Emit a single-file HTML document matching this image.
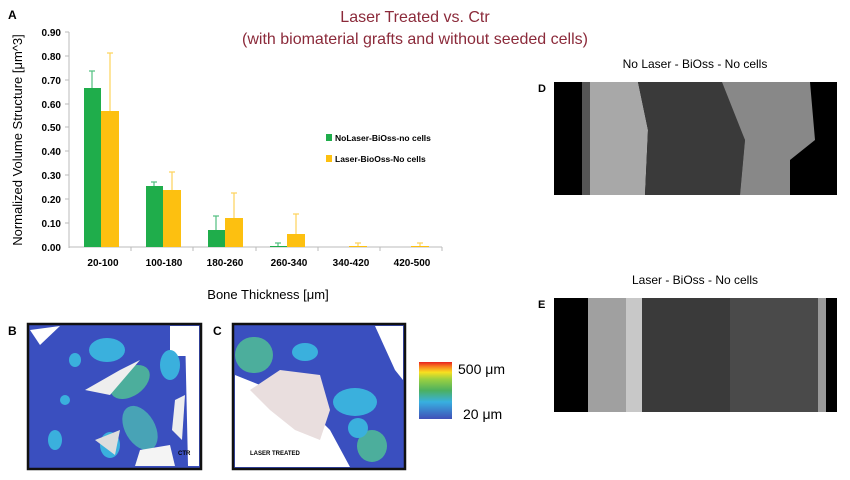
<!DOCTYPE html>
<html><head><meta charset="utf-8"><style>
body{margin:0;background:#fff;width:850px;height:475px;overflow:hidden;font-family:"Liberation Sans",Arial,sans-serif}
</style></head><body>
<svg width="850" height="475" xmlns="http://www.w3.org/2000/svg" font-family="Liberation Sans, Arial, sans-serif">
<rect width="850" height="475" fill="#fff"/>
<text x="8" y="19" font-size="12" font-weight="bold">A</text>
<text x="415" y="22" font-size="16" fill="#8b2a3a" text-anchor="middle">Laser Treated vs. Ctr</text>
<text x="415" y="44" font-size="16" fill="#8b2a3a" text-anchor="middle">(with biomaterial grafts and without seeded cells)</text>
<g font-size="10" font-weight="bold" text-anchor="end">
<text x="61" y="251">0.00</text><text x="61" y="227">0.10</text><text x="61" y="203">0.20</text><text x="61" y="179">0.30</text><text x="61" y="155">0.40</text><text x="61" y="131">0.50</text><text x="61" y="108">0.60</text><text x="61" y="84">0.70</text><text x="61" y="60">0.80</text><text x="61" y="36">0.90</text>
</g>
<g stroke="#bbb" stroke-width="1">
<line x1="69" y1="32" x2="69" y2="248"/><line x1="69" y1="247" x2="442" y2="247"/>
<line x1="65" y1="32" x2="69" y2="32"/><line x1="65" y1="56" x2="69" y2="56"/><line x1="65" y1="80" x2="69" y2="80"/><line x1="65" y1="104" x2="69" y2="104"/><line x1="65" y1="127" x2="69" y2="127"/><line x1="65" y1="151" x2="69" y2="151"/><line x1="65" y1="175" x2="69" y2="175"/><line x1="65" y1="199" x2="69" y2="199"/><line x1="65" y1="223" x2="69" y2="223"/>
<line x1="131" y1="247" x2="131" y2="251"/><line x1="193" y1="247" x2="193" y2="251"/><line x1="256" y1="247" x2="256" y2="251"/><line x1="318" y1="247" x2="318" y2="251"/><line x1="380" y1="247" x2="380" y2="251"/><line x1="442" y1="247" x2="442" y2="251"/>
</g>
<text transform="translate(22,140) rotate(-90)" font-size="13" text-anchor="middle">Normalized Volume Structure [μm^3]</text>
<!-- bars -->
<g fill="#1fad4b">
<rect x="84" y="88" width="17" height="159"/><rect x="146" y="186" width="17" height="61"/><rect x="208" y="230" width="17" height="17"/><rect x="270" y="246" width="17" height="1"/>
</g>
<g fill="#fdc010">
<rect x="101" y="111" width="18" height="136"/><rect x="163" y="190" width="18" height="57"/><rect x="225" y="218" width="18" height="29"/><rect x="287" y="234" width="18" height="13"/><rect x="349" y="246" width="18" height="1"/><rect x="411" y="246" width="18" height="1"/>
</g>
<g stroke="#4fbf7f" stroke-width="1.2">
<line x1="92" y1="88" x2="92" y2="71"/><line x1="89" y1="71" x2="95" y2="71"/>
<line x1="154" y1="186" x2="154" y2="182"/><line x1="151" y1="182" x2="157" y2="182"/>
<line x1="216" y1="230" x2="216" y2="216"/><line x1="213" y1="216" x2="219" y2="216"/>
<line x1="278" y1="246" x2="278" y2="243"/><line x1="275" y1="243" x2="281" y2="243"/>
</g>
<g stroke="#fdd35a" stroke-width="1.2">
<line x1="110" y1="111" x2="110" y2="53"/><line x1="107" y1="53" x2="113" y2="53"/>
<line x1="172" y1="190" x2="172" y2="172"/><line x1="169" y1="172" x2="175" y2="172"/>
<line x1="234" y1="218" x2="234" y2="193"/><line x1="231" y1="193" x2="237" y2="193"/>
<line x1="296" y1="234" x2="296" y2="214"/><line x1="293" y1="214" x2="299" y2="214"/>
<line x1="358" y1="246" x2="358" y2="243"/><line x1="355" y1="243" x2="361" y2="243"/>
<line x1="420" y1="246" x2="420" y2="243"/><line x1="417" y1="243" x2="423" y2="243"/>
</g>
<g font-size="10" font-weight="bold" text-anchor="middle">
<text x="103" y="266">20-100</text><text x="164" y="266">100-180</text><text x="225" y="266">180-260</text><text x="289" y="266">260-340</text><text x="351" y="266">340-420</text><text x="412" y="266">420-500</text>
</g>
<text x="268" y="299" font-size="13" text-anchor="middle">Bone Thickness [μm]</text>
<rect x="326" y="134" width="6" height="7" fill="#1fad4b"/>
<text x="335" y="141" font-size="8.5" font-weight="bold">NoLaser-BiOss-no cells</text>
<rect x="326" y="155" width="6" height="7" fill="#fdc010"/>
<text x="335" y="162" font-size="8.5" font-weight="bold">Laser-BioOss-No cells</text>

<!-- B -->
<text x="8" y="335" font-size="12" font-weight="bold">B</text>
<rect x="28" y="324" width="173" height="145" fill="#3a4fbf" stroke="#111" stroke-width="2.5"/>
<g>
<rect x="170" y="326" width="29" height="30" fill="#fff"/>
<ellipse cx="130" cy="382" rx="22" ry="14" fill="#4cae9c" transform="rotate(-35 130 382)"/>
<ellipse cx="140" cy="428" rx="15" ry="24" fill="#48a3b6" transform="rotate(-30 140 428)"/>
<ellipse cx="107" cy="350" rx="18" ry="12" fill="#3ab0dd"/>
<ellipse cx="75" cy="360" rx="6" ry="7" fill="#3ab0dd"/>
<ellipse cx="65" cy="400" rx="5" ry="5" fill="#3ab0dd"/>
<ellipse cx="110" cy="445" rx="10" ry="13" fill="#3ab0dd"/>
<ellipse cx="170" cy="365" rx="10" ry="15" fill="#3ab0dd"/>
<ellipse cx="55" cy="440" rx="7" ry="10" fill="#3ab0dd"/>
<path d="M85 390 L120 370 L140 360 L110 395 Z" fill="#eee"/>
<path d="M95 440 L120 430 L115 455 Z" fill="#ddd"/>
<path d="M140 450 L170 445 L175 466 L135 466 Z" fill="#f4f4f4"/>
<path d="M175 400 L185 395 L182 440 L172 430 Z" fill="#eee"/>
<path d="M30 330 L60 326 L40 345 Z" fill="#fff"/>
<path d="M185 330 L199 330 L199 466 L188 466 Z" fill="#fff"/>
</g>
<text x="178" y="455" font-size="6" font-weight="bold">CTR</text>
<!-- C -->
<text x="213" y="335" font-size="12" font-weight="bold">C</text>
<rect x="233" y="324" width="172" height="145" fill="#3a4fbf" stroke="#111" stroke-width="2.5"/>
<path d="M235 375 L260 385 L300 400 L330 430 L350 467 L235 467 Z" fill="#fff"/>
<path d="M375 326 L403 326 L403 380 L395 370 Z" fill="#fff"/>
<path d="M250 390 L280 370 L320 375 L330 410 L320 440 L295 430 L270 410 Z" fill="#e9dede"/>
<rect x="235" y="337" width="38" height="36" rx="18" fill="#4cae9c"/>
<ellipse cx="305" cy="352" rx="13" ry="9" fill="#3ab0dd"/>
<ellipse cx="355" cy="402" rx="22" ry="14" fill="#3ab0dd"/>
<ellipse cx="372" cy="446" rx="15" ry="16" fill="#4cae9c"/>
<ellipse cx="358" cy="428" rx="10" ry="10" fill="#3ab0dd"/>
<text x="250" y="455" font-size="6" font-weight="bold">LASER TREATED</text>
<defs><linearGradient id="cb" x1="0" y1="1" x2="0" y2="0">
<stop offset="0" stop-color="#4050b8"/><stop offset="0.3" stop-color="#38b0e0"/><stop offset="0.5" stop-color="#4cb060"/><stop offset="0.7" stop-color="#9cd040"/><stop offset="0.82" stop-color="#f8e020"/><stop offset="0.92" stop-color="#f88020"/><stop offset="1" stop-color="#e82020"/>
</linearGradient></defs>
<rect x="419" y="362" width="33" height="57" fill="url(#cb)"/>
<text x="458" y="374" font-size="14">500 μm</text>
<text x="463" y="419" font-size="14">20 μm</text>

<!-- D -->
<text x="695" y="68" font-size="12" text-anchor="middle">No Laser - BiOss - No cells</text>
<text x="538" y="92" font-size="11" font-weight="bold">D</text>
<rect x="554" y="82" width="283" height="113" fill="#000"/>
<rect x="582" y="82" width="8" height="113" fill="#555"/>
<path d="M590 82 L638 82 L648 130 L645 195 L590 195 Z" fill="#a8a8a8"/>
<path d="M638 82 L725 82 L745 140 L740 195 L645 195 L648 130 Z" fill="#3a3a3a"/>
<path d="M722 82 L810 82 L815 140 L790 160 L790 195 L740 195 L745 140 Z" fill="#888"/>
<!-- E -->
<text x="695" y="284" font-size="12" text-anchor="middle">Laser - BiOss - No cells</text>
<text x="538" y="308" font-size="11" font-weight="bold">E</text>
<rect x="554" y="298" width="283" height="114" fill="#000"/>
<rect x="588" y="298" width="38" height="114" fill="#a0a0a0"/>
<rect x="626" y="298" width="16" height="114" fill="#c8c8c8"/>
<rect x="642" y="298" width="88" height="114" fill="#3a3a3a"/>
<rect x="730" y="298" width="96" height="114" fill="#4a4a4a"/>
<rect x="818" y="298" width="8" height="114" fill="#999"/>
</svg>
</body></html>
